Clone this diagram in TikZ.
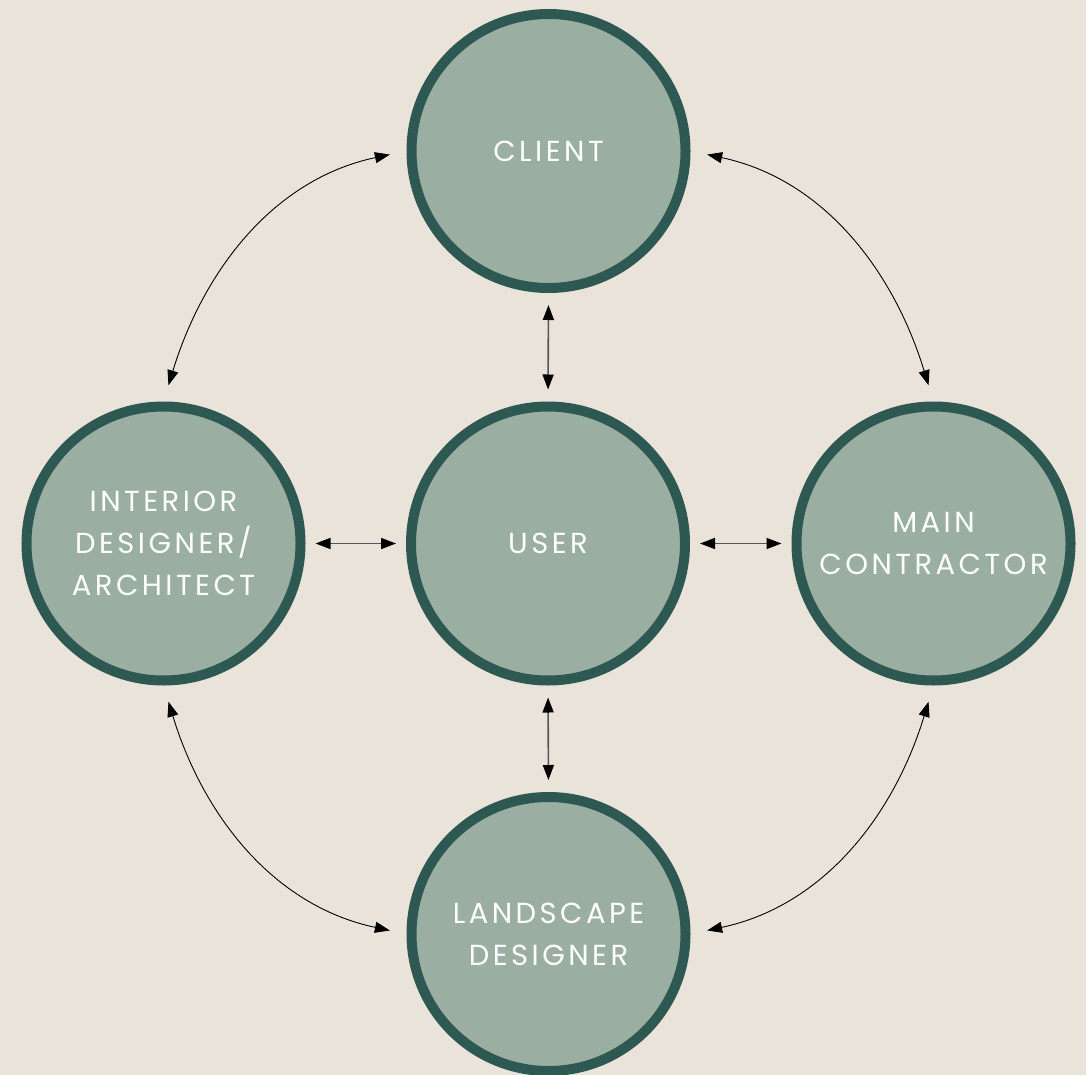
\documentclass[tikz,border=0pt]{standalone}
\usepackage{fontspec}
\setmainfont{Poppins}[LetterSpace=12]
\usetikzlibrary{arrows.meta}
\definecolor{bgc}{HTML}{E9E3DA}
\definecolor{fillc}{HTML}{9AAFA2}
\definecolor{ringc}{HTML}{2E5952}
\definecolor{linec}{HTML}{555555}
\tikzset{
  role/.style={circle, draw=ringc, fill=fillc, line width=10pt, minimum size=274pt, inner sep=0pt,
    text=white, align=center, font=\fontsize{29}{42}\selectfont},
  link/.style={{Triangle[length=15pt,width=11pt,color=black]}-{Triangle[length=15pt,width=11pt,color=black]}, draw=linec, line width=1.6pt},
  curvelink/.style={{Triangle[length=15pt,width=11pt]}-{Triangle[length=15pt,width=11pt]}, draw=black, line width=0.9pt, shorten <=17pt, shorten >=17pt}
}
\begin{document}
\begin{tikzpicture}[x=1pt,y=-1pt]
\fill[bgc] (0,0) rectangle (1086,1075);
\useasboundingbox (0,0) rectangle (1086,1075);
\node[role] (cli) at (548.5,151) {CLIENT};
\node[role] (usr) at (548,543.5) {USER};
\node[role] (int) at (163.5,543.5) {INTERIOR\\DESIGNER/\\ARCHITECT};
\node[role] (mai) at (933.5,543.5) {MAIN\\CONTRACTOR};
\node[role] (lan) at (548.5,934) {LANDSCAPE\\DESIGNER};
\draw[link, shorten <=12pt, shorten >=12pt] (cli.south) -- (usr.north);
\draw[link, shorten <=12pt, shorten >=12pt] (usr.south) -- (lan.north);
\draw[link, shorten <=10pt, shorten >=10pt] (int.east) -- (usr.west);
\draw[link, shorten <=10pt, shorten >=10pt] (usr.east) -- (mai.west);
\draw[curvelink] (int.north) to[out=73, in=192] (cli.west);
\draw[curvelink] (cli.east) to[out=-12, in=107] (mai.north);
\draw[curvelink] (int.south) to[out=-73, in=168] (lan.west);
\draw[curvelink] (lan.east) to[out=12, in=-107] (mai.south);
\end{tikzpicture}
\end{document}
